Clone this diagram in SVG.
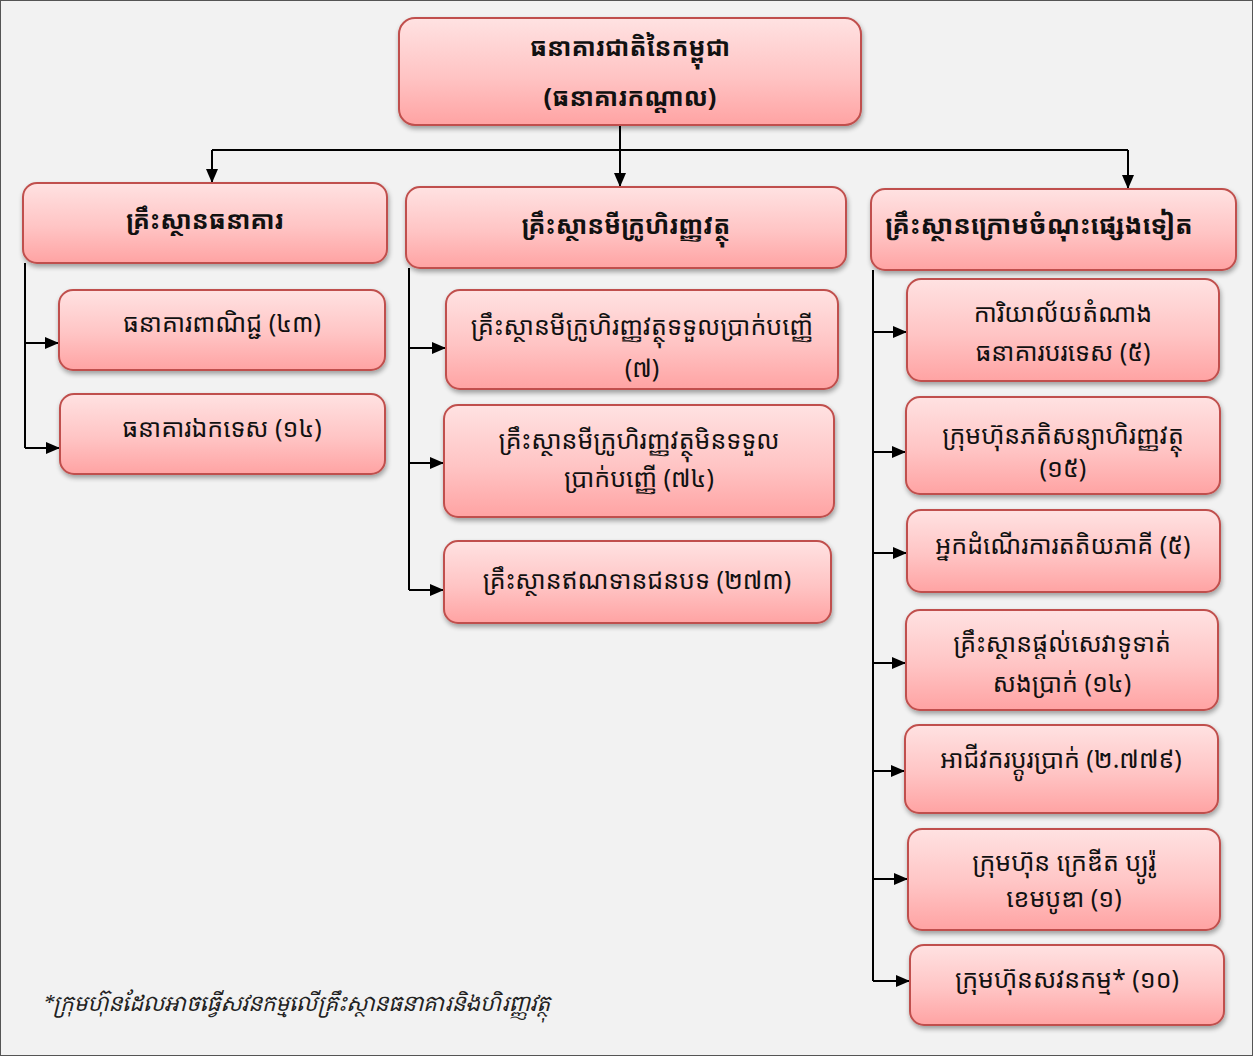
<svg xmlns="http://www.w3.org/2000/svg" width="1253" height="1056" viewBox="0 0 1253 1056">
<defs>
<linearGradient id="g" x1="0" y1="0" x2="0" y2="1">
<stop offset="0" stop-color="#ffe2e2"/>
<stop offset="0.55" stop-color="#ffc4c4"/>
<stop offset="1" stop-color="#ffa3a3"/>
</linearGradient>
<filter id="sh" x="-10%" y="-10%" width="120%" height="130%">
<feGaussianBlur in="SourceAlpha" stdDeviation="2.5"/>
<feOffset dx="1" dy="3" result="b"/>
<feComponentTransfer><feFuncA type="linear" slope="0.35"/></feComponentTransfer>
<feMerge><feMergeNode/><feMergeNode in="SourceGraphic"/></feMerge>
</filter>
<marker id="ah" markerWidth="14" markerHeight="12" refX="14" refY="6" orient="auto" markerUnits="userSpaceOnUse">
<path d="M0,0 L14,6 L0,12 Z" fill="#000"/>
</marker>
</defs>
<style>
.box{fill:url(#g);stroke:#c0504d;stroke-width:2;filter:url(#sh)}
.t{font-family:"Noto Sans Khmer","Noto Serif Khmer","Khmer OS","Khmer OS System","DejaVu Sans",sans-serif;fill:#111;text-anchor:middle}
.h0{font-size:25px;font-weight:bold}
.h1{font-size:25px;font-weight:bold}
.c{font-size:25px}
.ln{fill:none;stroke:#000;stroke-width:2}
.fn{font-family:"Noto Serif Khmer","Noto Sans Khmer","Khmer OS","DejaVu Serif",serif;font-size:21px;font-style:italic;fill:#222}
</style>
<rect x="0.5" y="0.5" width="1252" height="1055" fill="#f2f2f2" stroke="#555" stroke-width="1"/>

<g id="connectors">
<path class="ln" d="M620,125 V150"/>
<path class="ln" d="M212,150 H1128"/>
<path class="ln" d="M212,150 V183" marker-end="url(#ah)"/>
<path class="ln" d="M620,150 V187" marker-end="url(#ah)"/>
<path class="ln" d="M1128,150 V189" marker-end="url(#ah)"/>
<path class="ln" d="M25,263 V448"/>
<path class="ln" d="M25,343 H59" marker-end="url(#ah)"/>
<path class="ln" d="M25,448 H60" marker-end="url(#ah)"/>
<path class="ln" d="M409,268 V590"/>
<path class="ln" d="M409,348 H446" marker-end="url(#ah)"/>
<path class="ln" d="M409,463 H444" marker-end="url(#ah)"/>
<path class="ln" d="M409,590 H444" marker-end="url(#ah)"/>
<path class="ln" d="M873,270 V981"/>
<path class="ln" d="M873,332 H907" marker-end="url(#ah)"/>
<path class="ln" d="M873,452 H906" marker-end="url(#ah)"/>
<path class="ln" d="M873,553 H907" marker-end="url(#ah)"/>
<path class="ln" d="M873,663 H906" marker-end="url(#ah)"/>
<path class="ln" d="M873,771 H905" marker-end="url(#ah)"/>
<path class="ln" d="M873,879 H908" marker-end="url(#ah)"/>
<path class="ln" d="M873,981 H910" marker-end="url(#ah)"/>
</g>

<g id="nbc">
<rect class="box" x="399" y="18" width="462" height="107" rx="16"/>
<text class="t h0" x="630" y="56">ធនាគារជាតិនៃកម្ពុជា</text>
<text class="t h0" x="630" y="106">(ធនាគារកណ្តាល)</text>
</g>

<g id="banking">
<rect class="box" x="23" y="183" width="364" height="80" rx="14"/>
<text class="t h1" x="205" y="229">គ្រឹះស្ថានធនាគារ</text>
</g>
<g id="microfinance">
<rect class="box" x="406" y="187" width="440" height="81" rx="14"/>
<text class="t h1" x="626" y="234">គ្រឹះស្ថានមីក្រូហិរញ្ញវត្ថុ</text>
</g>
<g id="other">
<rect class="box" x="871" y="189" width="365" height="81" rx="14"/>
<text class="t h1" x="1039" y="234" style="font-size:26px">គ្រឹះស្ថានក្រោមចំណុះផ្សេងទៀត</text>
</g>

<g id="commercial">
<rect class="box" x="59" y="290" width="326" height="80" rx="14"/>
<text class="t c" x="222" y="332">ធនាគារពាណិជ្ជ (៤៣)</text>
</g>
<g id="specialized">
<rect class="box" x="60" y="394" width="325" height="80" rx="14"/>
<text class="t c" x="222" y="437">ធនាគារឯកទេស (១៤)</text>
</g>

<g id="mdi">
<rect class="box" x="446" y="290" width="392" height="99" rx="14"/>
<text class="t c" x="642" y="335">គ្រឹះស្ថានមីក្រូហិរញ្ញវត្ថុទទួលប្រាក់បញ្ញើ</text>
<text class="t c" x="642" y="377">(៧)</text>
</g>
<g id="mfi">
<rect class="box" x="444" y="405" width="390" height="112" rx="14"/>
<text class="t c" x="639" y="449">គ្រឹះស្ថានមីក្រូហិរញ្ញវត្ថុមិនទទួល</text>
<text class="t c" x="639" y="487">ប្រាក់បញ្ញើ (៧៤)</text>
</g>
<g id="rural">
<rect class="box" x="444" y="541" width="387" height="82" rx="14"/>
<text class="t c" x="637" y="589">គ្រឹះស្ថានឥណទានជនបទ (២៧៣)</text>
</g>

<g id="rep">
<rect class="box" x="907" y="279" width="312" height="102" rx="14"/>
<text class="t c" x="1063" y="322">ការិយាល័យតំណាង</text>
<text class="t c" x="1063" y="361">ធនាគារបរទេស (៥)</text>
</g>
<g id="leasing">
<rect class="box" x="906" y="397" width="314" height="97" rx="14"/>
<text class="t c" x="1063" y="444">ក្រុមហ៊ុនភតិសន្យាហិរញ្ញវត្ថុ</text>
<text class="t c" x="1063" y="477">(១៥)</text>
</g>
<g id="tpp">
<rect class="box" x="907" y="510" width="313" height="82" rx="14"/>
<text class="t c" x="1063" y="554">អ្នកដំណើរការតតិយភាគី (៥)</text>
</g>
<g id="payment">
<rect class="box" x="906" y="610" width="312" height="100" rx="14"/>
<text class="t c" x="1062" y="652">គ្រឹះស្ថានផ្តល់សេវាទូទាត់</text>
<text class="t c" x="1062" y="692">សងប្រាក់ (១៤)</text>
</g>
<g id="exchange">
<rect class="box" x="905" y="725" width="313" height="88" rx="14"/>
<text class="t c" x="1061" y="768">អាជីវករប្តូរប្រាក់ (២.៧៧៩)</text>
</g>
<g id="cbc">
<rect class="box" x="908" y="829" width="312" height="101" rx="14"/>
<text class="t c" x="1064" y="871">ក្រុមហ៊ុន ក្រេឌីត ប្យូរ៉ូ</text>
<text class="t c" x="1064" y="907">ខេមបូឌា (១)</text>
</g>
<g id="audit">
<rect class="box" x="910" y="945" width="314" height="80" rx="14"/>
<text class="t c" x="1067" y="988">ក្រុមហ៊ុនសវនកម្ម* (១០)</text>
</g>

<text class="fn" x="42" y="1011">*ក្រុមហ៊ុនដែលអាចធ្វើសវនកម្មលើគ្រឹះស្ថានធនាគារនិងហិរញ្ញវត្ថុ</text>
</svg>
